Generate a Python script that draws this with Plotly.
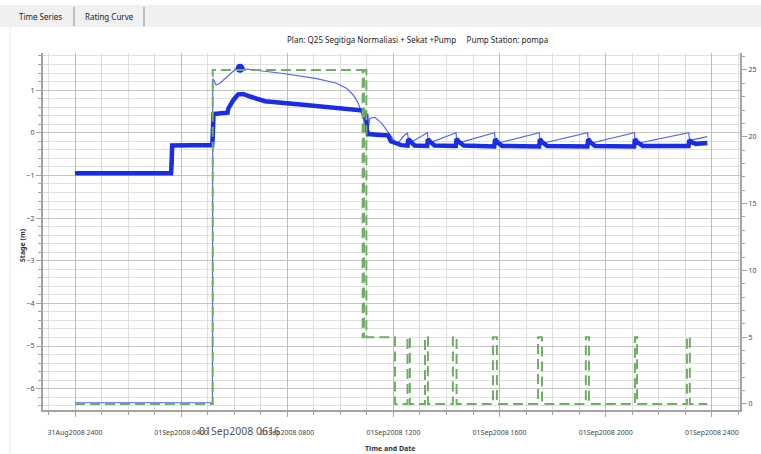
import plotly.graph_objects as go

# ---------------- data (hours after 31Aug2008 2400) ----------------
thick_t = [0, 3.62, 3.64, 3.66, 4.4, 5.17, 5.19, 5.20, 5.22, 5.5, 5.75, 5.78, 5.97, 6.15, 6.34,
           6.59, 6.85, 7.16, 8.5, 9.7, 10.86, 10.93, 10.97, 11.0, 11.05, 11.5, 11.8, 11.9, 12.1,
           12.3, 12.53, 12.56, 12.64, 12.8, 13.27, 13.30, 13.38, 13.55, 14.35, 14.38, 14.46,
           14.65, 15.80, 15.83, 15.91, 16.1, 17.49, 17.52, 17.60, 17.8, 19.31, 19.34, 19.42,
           19.6, 21.07, 21.10, 21.18, 21.4, 23.12, 23.15, 23.23, 23.4, 23.83]
thick_stage = [-0.95, -0.95, -0.72, -0.30, -0.29, -0.29, -0.09, 0.18, 0.44, 0.46, 0.47, 0.57,
               0.77, 0.90, 0.91, 0.85, 0.80, 0.74, 0.66, 0.58, 0.52, 0.34, 0.45, 0.06, -0.03,
               -0.05, -0.06, -0.20, -0.25, -0.29, -0.30, -0.15, -0.20, -0.30, -0.31, -0.15,
               -0.21, -0.30, -0.31, -0.14, -0.21, -0.30, -0.32, -0.15, -0.22, -0.31, -0.32,
               -0.15, -0.22, -0.31, -0.32, -0.15, -0.22, -0.31, -0.32, -0.15, -0.22, -0.31,
               -0.31, -0.17, -0.22, -0.26, -0.24]

thin_t = [0, 5.18, 5.19, 5.32, 5.46, 5.65, 5.84, 6.03, 6.22, 6.59, 6.97, 7.85, 9.11, 9.86, 10.24,
          10.49, 10.68, 10.86, 10.95, 11.0, 11.11, 11.3, 11.56, 11.74, 11.93, 12.05, 12.17, 12.35,
          12.53, 12.58, 13.28, 13.31, 14.36, 14.39, 15.81, 15.84, 17.50, 17.53, 19.32, 19.35,
          21.08, 21.11, 23.13, 23.16, 23.83]
thin_stage = [-6.33, -6.33, 1.27, 1.12, 1.16, 1.27, 1.39, 1.48, 1.51, 1.48, 1.46, 1.39, 1.27,
              1.16, 1.04, 0.88, 0.69, 0.34, 0.10, -0.09, 0.34, 0.36, 0.22, 0.06, -0.09, -0.20,
              -0.24, -0.10, 0.0, -0.25, 0.0, -0.25, 0.0, -0.25, 0.0, -0.26, 0.0, -0.26, 0.0,
              -0.26, 0.0, -0.26, 0.0, -0.18, -0.09]

flow_t = [0, 5.19, 10.84, 10.89, 10.98, 11.05, 12.06, 12.53, 12.62, 13.19, 13.30, 14.24,
          14.38, 15.75, 15.90, 17.45, 17.60, 19.25, 19.37, 21.10, 21.18, 23.06, 23.17, 23.83]
flow_q = [0, 25, 5, 25, 5, 5, 0, 5, 0, 5, 0, 5, 0, 5, 0, 5, 0, 5, 0, 5, 0, 5, 0, 0]

dot_t = [3.64, 5.19, 5.20]
dot_stage = [-0.72, -0.09, 0.18]
cursor_t = [6.22]
cursor_stage = [1.51]

x_tickvals = [0, 4, 8, 12, 16, 20, 24]
x_ticktext = ["31Aug2008 2400", "01Sep2008 0400", "01Sep2008 0800", "01Sep2008 1200",
              "01Sep2008 1600", "01Sep2008 2000", "01Sep2008 2400"]
left_ticks = [-6, -5, -4, -3, -2, -1, 0, 1]
right_ticks = [0, 5, 10, 15, 20, 25]

TITLE = "Plan: Q25 Segitiga Normaliasi + Sekat +Pump &nbsp;&nbsp;&nbsp; Pump Station: pompa"
CURSOR_LABEL = "01Sep2008 0616"

# ---------------- layout helpers ----------------
W, H = 761, 454
L, R, T, B = 43, 740, 53, 410


def pxx(p):
    """page pixel x -> paper x"""
    return (p - L) / (R - L)


def pxy(p):
    """page pixel y -> paper y"""
    return (B - p) / (B - T)


FONT = "Noto Sans"
BLUE = "#1a2de6"
THIN = "#5566ee"
GREEN = "#6fae64"

fig = go.Figure()
fig.add_trace(go.Scatter(x=thin_t, y=thin_stage, mode="lines",
                         line=dict(color=THIN, width=1.2), showlegend=False))
fig.add_trace(go.Scatter(x=flow_t, y=flow_q, mode="lines", yaxis="y2",
                         line=dict(color=GREEN, width=2, dash="10px,5px", shape="hv"),
                         showlegend=False))
fig.add_trace(go.Scatter(x=thick_t, y=thick_stage, mode="lines",
                         line=dict(color=BLUE, width=4.5), showlegend=False))
fig.add_trace(go.Scatter(x=dot_t, y=dot_stage, mode="markers",
                         marker=dict(color=BLUE, size=4), showlegend=False))
fig.add_trace(go.Scatter(x=cursor_t, y=cursor_stage, mode="markers",
                         marker=dict(color=BLUE, size=9), showlegend=False))

axis_line = dict(showline=True, linecolor="#a3a3a3", linewidth=2, zeroline=False)
tickfont = dict(family=FONT, size=7, color="#444")

fig.update_layout(
    width=W, height=H,
    margin=dict(l=L, r=W - R, t=T, b=H - B, autoexpand=False),
    paper_bgcolor="white", plot_bgcolor="white",
    font=dict(family=FONT),
    xaxis=dict(range=[-1.206, 25.06], tickmode="array", tickvals=x_tickvals,
               ticktext=x_ticktext, ticks="outside", ticklen=5, tickcolor="#a3a3a3",
               tickfont=tickfont, ticklabelstandoff=10, ticklabeloverflow="allow",
               showgrid=True, gridcolor="#bcbcbc", gridwidth=1,
               minor=dict(tickmode="linear", tick0=0, dtick=1, ticks="outside", ticklen=3,
                          tickcolor="#a3a3a3", showgrid=True, gridcolor="#dedede",
                          gridwidth=1),
               **axis_line),
    yaxis=dict(range=[-6.5, 1.87], tickmode="array", tickvals=left_ticks,
               ticks="outside", ticklen=5, tickcolor="#a3a3a3", tickfont=tickfont,
               showgrid=True, gridcolor="#c4c4c4", gridwidth=1, ticklabeloverflow="allow",
               minor=dict(tickmode="linear", tick0=0, dtick=0.2, ticks="outside",
                          ticklen=3, tickcolor="#a3a3a3", showgrid=True,
                          gridcolor="#e0e0e0", gridwidth=1),
               **axis_line),
    yaxis2=dict(range=[-0.45, 26.27], overlaying="y", side="right", tickmode="array",
                tickvals=right_ticks, ticks="outside", ticklen=5, tickcolor="#a3a3a3",
                tickfont=tickfont, showgrid=False, ticklabeloverflow="allow",
                minor=dict(tickmode="linear", tick0=0, dtick=1, ticks="outside",
                           ticklen=3, tickcolor="#a3a3a3", showgrid=False),
                **axis_line),
)

shapes = [
    dict(type="rect", xref="paper", yref="paper", x0=pxx(0), x1=pxx(761), y0=pxy(27),
         y1=pxy(5), fillcolor="#f0f0f0", line=dict(width=0), layer="below"),
    dict(type="line", xref="paper", yref="paper", x0=pxx(74), x1=pxx(74), y0=pxy(26),
         y1=pxy(7), line=dict(color="#8a8a8a", width=1)),
    dict(type="line", xref="paper", yref="paper", x0=pxx(144), x1=pxx(144), y0=pxy(26),
         y1=pxy(7), line=dict(color="#8a8a8a", width=1)),
    dict(type="line", xref="paper", yref="paper", x0=pxx(10), x1=pxx(10), y0=pxy(454),
         y1=pxy(27), line=dict(color="#ececec", width=1), layer="below"),
]
fig.update_layout(shapes=shapes)

ann = [
    dict(text="Time Series", x=pxx(40), y=pxy(16.5), size=8, color="#222"),
    dict(text="Rating Curve", x=pxx(109), y=pxy(16.5), size=8, color="#222"),
    dict(text=TITLE, x=pxx(417), y=pxy(40), size=8, color="#222"),
    dict(text="<b>Time and Date</b>", x=pxx(390), y=pxy(448), size=7, color="#333"),
    dict(text=CURSOR_LABEL, x=pxx(239), y=pxy(431), size=10.5, color="#555"),
]
for a in ann:
    fig.add_annotation(text=a["text"], x=a["x"], y=a["y"], xref="paper", yref="paper",
                       showarrow=False, xanchor="center", yanchor="middle",
                       font=dict(family=FONT, size=a["size"], color=a["color"]))
fig.add_annotation(text="<b>Stage (m)</b>", x=pxx(22), y=pxy(245), xref="paper",
                   yref="paper", showarrow=False, textangle=-90, xanchor="center",
                   yanchor="middle", font=dict(family=FONT, size=7, color="#333"))

fig.write_html("out.html", config={"displayModeBar": False},
               post_script="document.body.style.margin='0';"
                           "document.body.style.overflow='hidden';")
